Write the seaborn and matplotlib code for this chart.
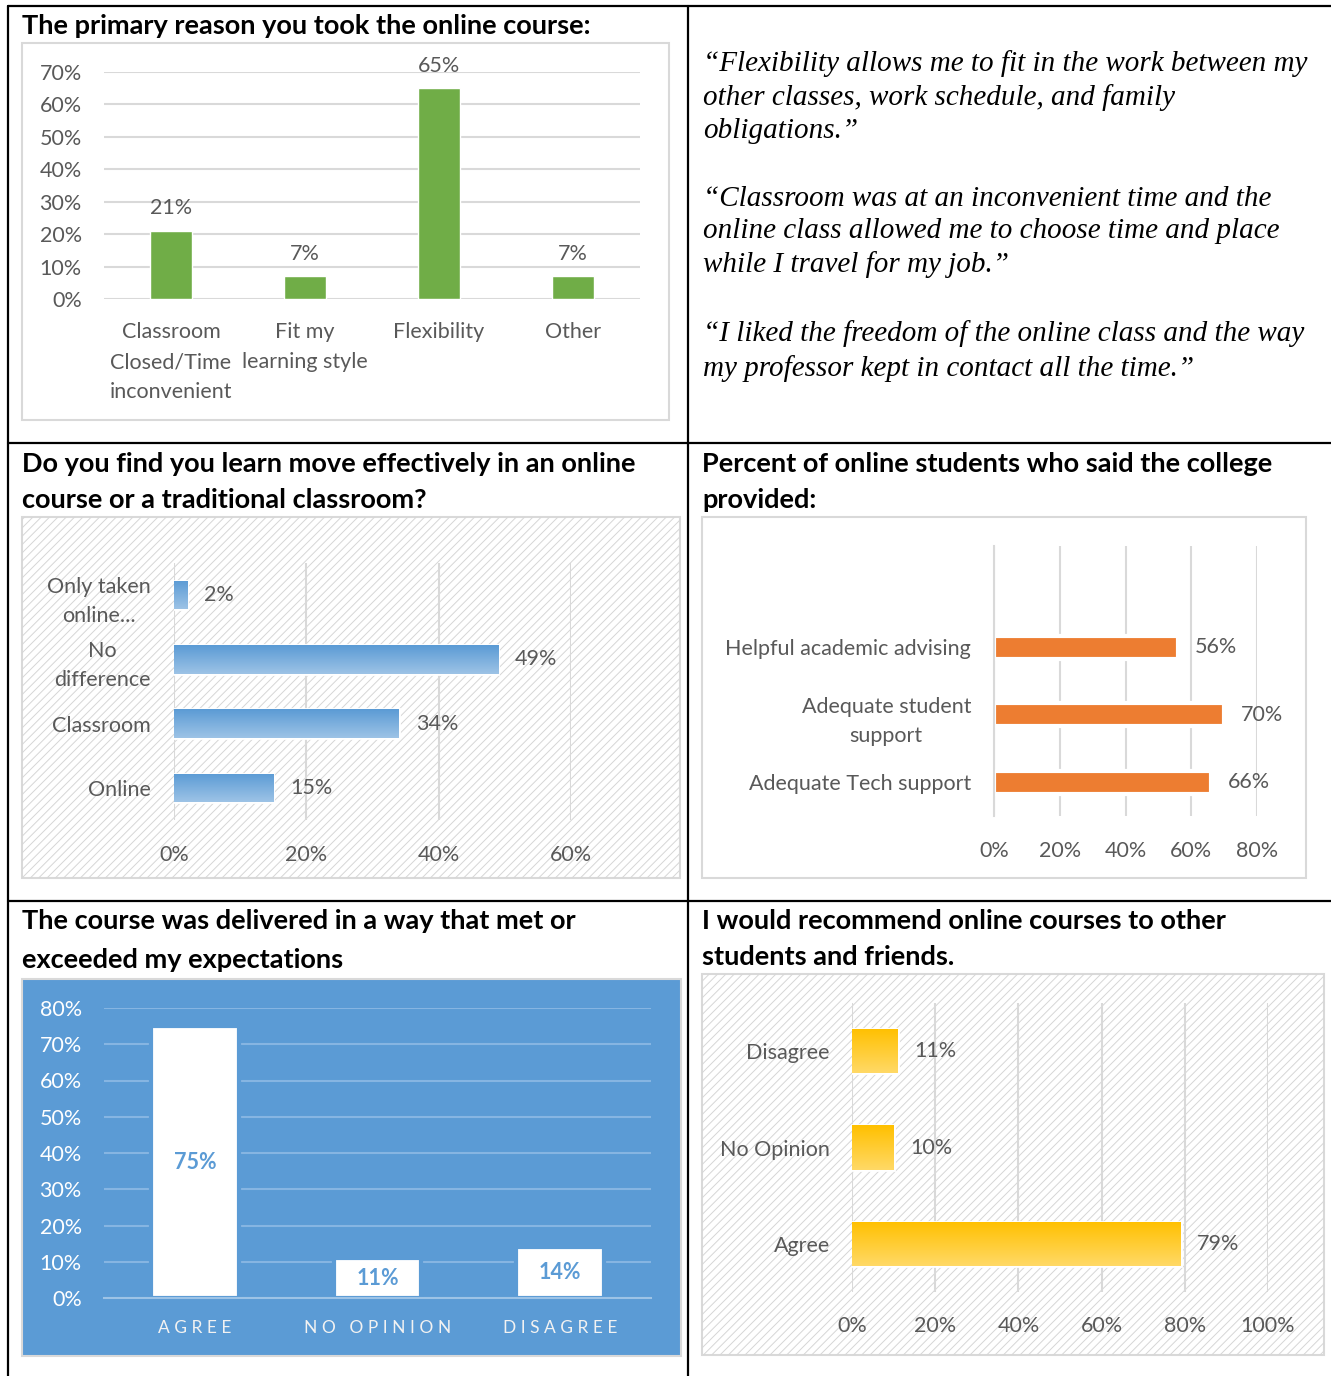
import numpy as np
import seaborn as sns
from matplotlib import pyplot as plt
from matplotlib.patches import Rectangle
from matplotlib.lines import Line2D
from matplotlib.colors import LinearSegmentedColormap

# data -----------------------------------------------------------------------
reason_cats = ["Classroom\nClosed/Time\ninconvenient", "Fit my\nlearning style", "Flexibility", "Other"]
reason_vals = [21, 7, 65, 7]

learn_cats = ["Only taken\nonline...", "No\ndifference", "Classroom", "Online"]
learn_vals = [2, 49, 34, 15]

provided_cats = ["Helpful academic advising", "Adequate student\nsupport", "Adequate Tech support"]
provided_vals = [56, 70, 66]

expect_cats = ["AGREE", "NO OPINION", "DISAGREE"]
expect_vals = [75, 11, 14]

recommend_cats = ["Disagree", "No Opinion", "Agree"]
recommend_vals = [11, 10, 79]

quotes = [
    "\u201cFlexibility allows me to fit in the work between my\nother classes, work schedule, and family\nobligations.\u201d",
    "\u201cClassroom was at an inconvenient time and the\nonline class allowed me to choose time and place\nwhile I travel for my job.\u201d",
    "\u201cI liked the freedom of the online class and the way\nmy professor kept in contact all the time.\u201d",
]

sns.set_style("white")
plt.rcParams["font.family"] = ["Lato", "DejaVu Sans"]
plt.rcParams["hatch.linewidth"] = 0.7

W, H = 1331, 1376
GRAY = "#595959"
GRID = "#d9d9d9"
TICK = 15.5


def rect(x0, y0, x1, y1):
    return [x0 / W, 1 - y1 / H, (x1 - x0) / W, (y1 - y0) / H]


fig = plt.figure(figsize=(W / 100, H / 100), dpi=100)


def frame(x0, y0, x1, y1, fc="white", hatch=False):
    fig.add_artist(Rectangle((x0 / W, 1 - y1 / H), (x1 - x0) / W, (y1 - y0) / H,
                             transform=fig.transFigure, facecolor=fc, edgecolor=GRID,
                             lw=1.5, zorder=-2))
    if hatch:
        fig.add_artist(Rectangle((x0 / W, 1 - y1 / H), (x1 - x0) / W, (y1 - y0) / H,
                                 transform=fig.transFigure, facecolor="none", edgecolor="#d6d6d6",
                                 hatch="////", lw=0, zorder=-1))


def title(x, y, s):
    fig.text(x / W, 1 - y / H, s, fontsize=19.5, fontweight="bold", color="black",
             ha="left", va="center")


def gradient_bars(ax, top, bottom):
    cmap = LinearSegmentedColormap.from_list("g", [top, bottom])
    grad = np.linspace(0, 1, 64).reshape(-1, 1)
    for p in list(ax.patches):
        x, y, w, h = p.get_x(), p.get_y(), p.get_width(), p.get_height()
        im = ax.imshow(grad, cmap=cmap, aspect="auto", extent=(x, x + w, y + h, y),
                       origin="upper", zorder=p.get_zorder() + 0.1)
        im.set_clip_path(p)


def pct(v):
    return f"{v:.0f}%"


# table rules
for xs, ys in [((8, 1331), (6, 6)), ((8, 1331), (443, 443)), ((8, 1331), (901, 901)),
               ((8, 8), (6, 1376)), ((688, 688), (6, 1376))]:
    fig.add_artist(Line2D([xs[0] / W, xs[1] / W], [1 - ys[0] / H, 1 - ys[1] / H],
                          color="black", lw=1.6, zorder=10))

# panel 1: primary reason --------------------------------------------------
title(22, 26, "The primary reason you took the online course:")
frame(22, 43, 669, 420)
ax1 = fig.add_axes(rect(104, 72, 640, 299))
ax1.set_facecolor("none")
sns.barplot(x=reason_cats, y=reason_vals, color="#70ad47", saturation=1, width=0.31,
            errorbar=None, ax=ax1, zorder=2)
ax1.set_ylim(0, 70)
ax1.set_yticks(range(0, 71, 10))
ax1.set_yticklabels([pct(v) for v in range(0, 71, 10)])
ax1.grid(axis="y", color=GRID, lw=1.5)
ax1.set_axisbelow(True)
for s in ax1.spines.values():
    s.set_visible(False)
ax1.tick_params(axis="both", length=0, labelsize=TICK, labelcolor=GRAY)
ax1.tick_params(axis="y", pad=16)
ax1.tick_params(axis="x", pad=16.5)
for t in ax1.get_xticklabels():
    t.set_linespacing(1.64)
ax1.bar_label(ax1.containers[0], labels=[pct(v) for v in reason_vals], padding=9,
              fontsize=TICK, color=GRAY)
ax1.set_xlabel("")
ax1.set_ylabel("")

# panel 2: quotes ------------------------------------------------------------
for q, yc, ls in zip(quotes, [97, 232, 351], [1.34, 1.34, 1.42]):
    fig.text(703 / W, 1 - yc / H, q, fontsize=21, family="Liberation Serif", style="italic",
             ha="left", va="center", linespacing=ls, color="black")

# panel 3: learn effectively ---------------------------------------------------
title(22, 464, "Do you find you learn move effectively in an online")
title(22, 500, "course or a traditional classroom?")
frame(22, 517, 680, 878, hatch=True)
ax3 = fig.add_axes(rect(174, 563, 571, 820))
ax3.set_facecolor("none")
sns.barplot(x=learn_vals, y=learn_cats, orient="h", color="#5b9bd5", saturation=1,
            width=0.44, errorbar=None, ax=ax3, edgecolor="white", lw=2, zorder=1)
gradient_bars(ax3, "#5b9bd5", "#9dc3e6")
ax3.set_xlim(0, 60)
ax3.set_ylim(3.5, -0.5)
ax3.set_xticks(range(0, 61, 20))
ax3.set_xticklabels([pct(v) for v in range(0, 61, 20)])
ax3.grid(axis="x", color=GRID, lw=1.5)
ax3.set_axisbelow(True)
for s in ax3.spines.values():
    s.set_visible(False)
ax3.tick_params(axis="both", length=0, labelsize=TICK, labelcolor=GRAY)
ax3.tick_params(axis="y", pad=17)
ax3.tick_params(axis="x", pad=18)
for t in ax3.get_yticklabels():
    t.set_linespacing(1.56)
    t.set_multialignment("center")
ax3.bar_label(ax3.containers[0], labels=[pct(v) for v in learn_vals], padding=12,
              fontsize=TICK, color=GRAY)
ax3.set_xlabel("")
ax3.set_ylabel("")

# panel 4: college provided ---------------------------------------------------
title(702, 464, "Percent of online students who said the college")
title(702, 500, "provided:")
frame(702, 517, 1306, 878)
ax4 = fig.add_axes(rect(994, 546, 1257, 816))
ax4.set_facecolor("none")
sns.barplot(x=provided_vals, y=provided_cats, order=[""] + provided_cats, orient="h",
            color="#ed7d31", saturation=1, width=0.34, errorbar=None, ax=ax4,
            edgecolor="white", lw=3, zorder=2)
ax4.set_xlim(0, 80)
ax4.set_ylim(3.5, -0.5)
ax4.set_xticks(range(0, 81, 20))
ax4.set_xticklabels([pct(v) for v in range(0, 81, 20)])
ax4.set_yticks([-0.5, 0.5, 1.5, 2.5, 3.5], minor=True)
ax4.grid(axis="x", color=GRID, lw=1.5)
ax4.set_axisbelow(True)
for s in ["top", "right", "bottom"]:
    ax4.spines[s].set_visible(False)
ax4.spines["left"].set_color(GRID)
ax4.spines["left"].set_linewidth(1.5)
ax4.tick_params(axis="both", which="major", length=0, labelsize=TICK, labelcolor=GRAY)
ax4.tick_params(axis="y", which="minor", length=6, width=1.5, color=GRID)
ax4.tick_params(axis="y", which="major", pad=16.5)
ax4.tick_params(axis="x", pad=18)
for t in ax4.get_yticklabels():
    t.set_linespacing(1.56)
    t.set_multialignment("center")
ax4.bar_label(ax4.containers[0], labels=[pct(v) for v in provided_vals], padding=12,
              fontsize=TICK, color=GRAY)
ax4.set_xlabel("")
ax4.set_ylabel("")

# panel 5: expectations -------------------------------------------------------
title(22, 921, "The course was delivered in a way that met or")
title(22, 960, "exceeded my expectations")
frame(22, 979, 681, 1356, fc="#5b9bd5")
ax5 = fig.add_axes(rect(104, 1008, 651, 1298))
ax5.set_facecolor("none")
sns.barplot(x=expect_cats, y=expect_vals, color="white", saturation=1, width=0.48,
            errorbar=None, ax=ax5, edgecolor="#5b9bd5", lw=3, zorder=2)
ax5.set_ylim(0, 80)
ax5.set_xlim(-0.5, 2.5)
ax5.set_yticks(range(0, 81, 10))
ax5.set_yticklabels([pct(v) for v in range(0, 81, 10)])
ax5.set_xticks(range(len(expect_cats)))
ax5.set_xticklabels([" ".join(c) for c in expect_cats])
ax5.set_xticks([-0.5, 0.5, 1.5, 2.5], minor=True)
ax5.grid(axis="y", color="#86b5e2", lw=1.5)
ax5.set_axisbelow(True)
for s in ["top", "right", "left"]:
    ax5.spines[s].set_visible(False)
ax5.spines["bottom"].set_color("#9dc3e6")
ax5.spines["bottom"].set_linewidth(1.5)
ax5.tick_params(axis="both", which="major", length=0)
ax5.tick_params(axis="y", labelsize=TICK, labelcolor="white", pad=16)
ax5.tick_params(axis="x", labelsize=12.5, labelcolor="#f2f2f2", pad=15.5)
ax5.tick_params(axis="x", which="minor", length=6, width=1.5, color="#9dc3e6")
ax5.bar_label(ax5.containers[0], labels=[pct(v) for v in expect_vals], label_type="center",
              fontsize=TICK, color="#5b9bd5", fontweight="bold")
ax5.set_xlabel("")
ax5.set_ylabel("")

# panel 6: recommend ------------------------------------------------------------
title(702, 921, "I would recommend online courses to other")
title(702, 957, "students and friends.")
frame(702, 974, 1324, 1355, hatch=True)
ax6 = fig.add_axes(rect(852, 1003, 1268, 1292))
ax6.set_facecolor("none")
sns.barplot(x=recommend_vals, y=recommend_cats, orient="h", color="#ffc000", saturation=1,
            width=0.46, errorbar=None, ax=ax6, edgecolor="white", lw=2, zorder=1)
gradient_bars(ax6, "#ffc000", "#ffd966")
ax6.set_xlim(0, 100)
ax6.set_ylim(2.5, -0.5)
ax6.set_xticks(range(0, 101, 20))
ax6.set_xticklabels([pct(v) for v in range(0, 101, 20)])
ax6.grid(axis="x", color=GRID, lw=1.5)
ax6.set_axisbelow(True)
for s in ax6.spines.values():
    s.set_visible(False)
ax6.tick_params(axis="both", length=0, labelsize=TICK, labelcolor=GRAY)
ax6.tick_params(axis="y", pad=16)
ax6.tick_params(axis="x", pad=17)
ax6.bar_label(ax6.containers[0], labels=[pct(v) for v in recommend_vals], padding=12,
              fontsize=TICK, color=GRAY)
ax6.set_xlabel("")
ax6.set_ylabel("")

fig.savefig("out.png", dpi=100)
